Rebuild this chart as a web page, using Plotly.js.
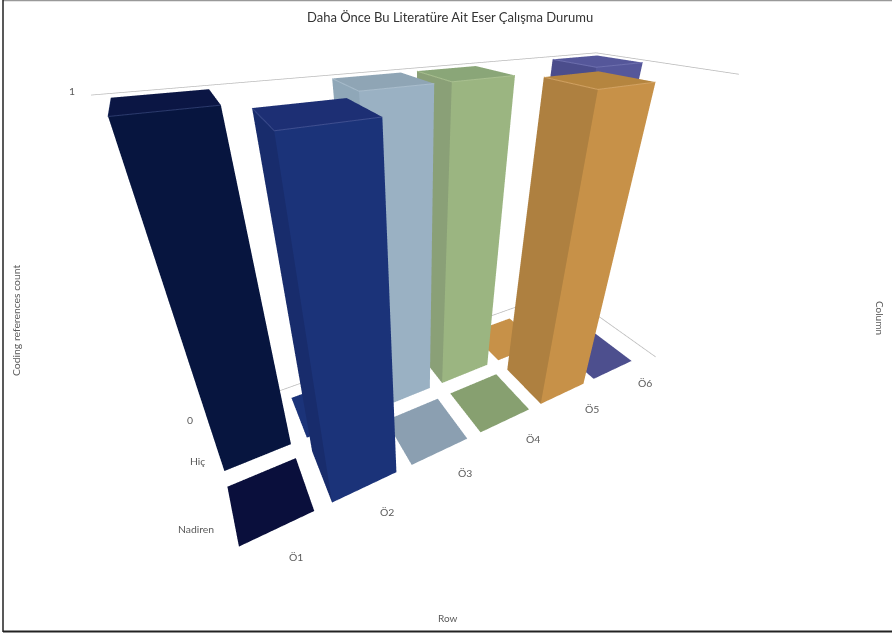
<!DOCTYPE html>
<html><head><meta charset="utf-8">
<script src="https://cdn.plot.ly/plotly-3.0.1.min.js"></script>
<style>html,body{margin:0;padding:0;background:#fff;overflow:hidden;width:892px;height:635px}#c{width:892px;height:764px;margin-top:-129px}</style>
</head><body><div id="c"></div>
<script>
const rows = ['Ö1','Ö2','Ö3','Ö4','Ö5','Ö6'];
const columns = ['Nadiren','Hiç'];
const nadiren = [0,1,0,0,1,0];
const hic = [1,0,1,1,0,1];
const topColors = ['#0b1644','#1d2f74','#8fa5b5','#8aa678','#b5853f','#55579a'];
const frontColors = ['#07153f','#1b3379','#9ab1c3','#9bb581','#c79148','#55579a'];
const leftColors = ['#06133b','#182c6c','#8fa7b8','#8aa077','#ae8040','#4b4d8c'];
const plateColors = ['#0a0f3c','#1b3379','#8b9fb1','#87a070','#c79148','#4d4f8e'];
const edgeColors = ['#2b3a6c','#3f4f90','#a9bdcc','#a9c090','#d2a263','#6d6fae'];
const barW = 0.398, barD = 0.384;
const H = 764, TOP = 129;
const py = y => 1-(y+TOP)/H;

function bar(ix, iy, v) {
  const x0=ix-barW,x1=ix+barW,y0=iy-barD,y1=iy+barD,z1=v;
  const t=v>0?topColors[ix]:plateColors[ix];
  const X=[x0,x1,x1,x0,x0,x1,x1,x0],Y=[y0,y0,y1,y1,y0,y0,y1,y1],Z=[0,0,0,0,z1,z1,z1,z1];
  return {type:'mesh3d',x:X,y:Y,z:Z,
    i:[4,4,0,0,0,0], j:[5,6,1,5,3,7], k:[6,7,5,4,7,4],
    facecolor:[t,t,frontColors[ix],frontColors[ix],leftColors[ix],leftColors[ix]],
    flatshading:true,showscale:false,hoverinfo:'skip',
    lighting:{ambient:1,diffuse:0,specular:0,fresnel:0,roughness:1}};
}
function edge(ix, iy, v) {
  const x0=ix-barW,x1=ix+barW,y0=iy-barD,y1=iy+barD;
  return {type:'scatter3d',mode:'lines',x:[x0,x0,x1],y:[y1,y0,y0],z:[v,v,v],
    line:{color:edgeColors[ix],width:2},hoverinfo:'skip',showlegend:false};
}
const traces=[];
rows.forEach((r,i)=>{
  traces.push(bar(i,0,nadiren[i])); traces.push(bar(i,1,hic[i]));
  if(nadiren[i]>0) traces.push(edge(i,0,nadiren[i]));
  if(hic[i]>0) traces.push(edge(i,1,hic[i]));
});
const xlo=-0.56,xhi=5.8,xhiTop=5.6,ylo=-0.5,yhi=1.6;
function line(x,y,z){return {type:'scatter3d',mode:'lines',x,y,z,line:{color:'#b9b9b9',width:1.5},hoverinfo:'skip',showlegend:false};}
traces.push(line([xlo,xhiTop,xhiTop],[yhi,yhi,ylo],[1,1,1]));
traces.push(line([0.4,xhi,xhi],[yhi,yhi,ylo],[0,0,0]));

const ann=(x,y,z,text,xshift,yshift)=>({x,y,z,text,xshift,yshift,showarrow:false,font:{family:'Lato',size:10.4,color:'#5a5a5a'}});
const annotations=[];
rows.forEach((r,i)=>annotations.push(ann(i,ylo,0,r,16+2*i,-19+2.2*i)));
annotations.push(ann(-0.5,0,0,columns[0],-27,-10));
annotations.push(ann(-0.5,1,0,columns[1],-14,-10));
annotations.push(ann(-0.5,1.5,0,'0',-16,2));
annotations.push(ann(-0.5,1.5,1,'1',-26,5));

const hidden={visible:false,showgrid:false,zeroline:false,showticklabels:false,showbackground:false,showspikes:false,title:{text:''}};
const pa=(x,y,text,size,color,angle)=>({xref:'paper',yref:'paper',x:x/892,y:py(y),text,xanchor:'center',yanchor:'middle',textangle:angle||0,showarrow:false,font:{family:'Lato',size,color}});
const hline=(y,x0,x1,color,width)=>({type:'line',xref:'paper',yref:'paper',x0:x0/892,x1:x1/892,y0:py(y),y1:py(y),line:{color,width}});
const layout={
  width:892,height:H,margin:{l:0,r:0,t:0,b:0},paper_bgcolor:'#fff',showlegend:false,
  scene:{domain:{x:[0,840/892],y:[0,1]},
    xaxis:{...hidden,range:[-0.7,5.9]},yaxis:{...hidden,range:[-0.6,1.7]},zaxis:{...hidden,range:[-0.05,1.05]},
    aspectmode:'manual',aspectratio:{x:1.3134,y:0.44735,z:0.91135},
    camera:{projection:{type:'perspective'},up:{x:0,y:0,z:1},center:{x:-0.112,y:-0.062,z:0.087},eye:{x:-0.521,y:-0.826,z:0.5858}},
    annotations},
  annotations:[
    pa(450,17,'Daha Önce Bu Literatüre Ait Eser Çalışma Durumu',13,'#333'),
    pa(448,618,'Row',10,'#5a5a5a'),
    pa(16,320,'Coding references count',10.4,'#5a5a5a',-90),
    pa(880,318,'Column',10,'#5a5a5a',90)
  ],
  shapes:[
    hline(631.5,3,892,'#222',2),
    hline(0.5,3,892,'#999',1.5),
    {type:'line',xref:'paper',yref:'paper',x0:3/892,x1:3/892,y0:py(0),y1:py(632),line:{color:'#222',width:1.5}}
  ]
};
const gd=document.getElementById('c');
const F=2*Math.atan(382/469);
Plotly.newPlot(gd,traces,layout,{displayModeBar:false}).then(()=>{
  const sc=gd._fullLayout.scene._scene;
  const apply=()=>{ if(sc&&sc.glplot){ sc.glplot.fovy=F; sc.glplot.redraw&&sc.glplot.redraw(); } };
  apply(); setTimeout(apply,50); setTimeout(apply,300);
});
</script></body></html>
